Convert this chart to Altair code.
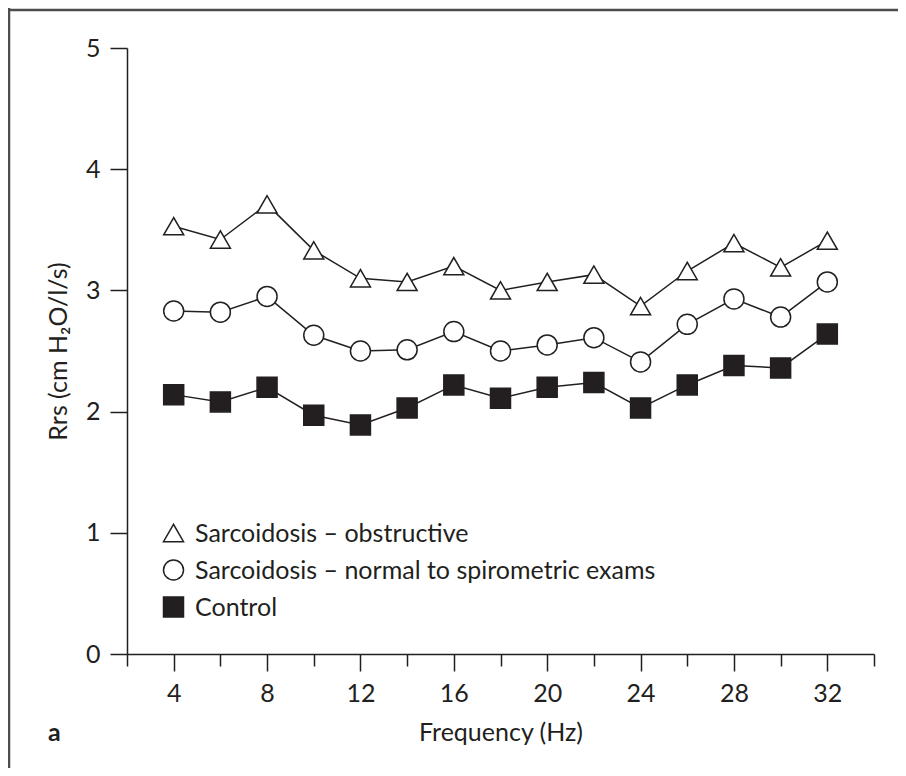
import altair as alt
import pandas as pd

freq = [4, 6, 8, 10, 12, 14, 16, 18, 20, 22, 24, 26, 28, 30, 32]
obstructive = [3.53, 3.42, 3.71, 3.33, 3.10, 3.07, 3.20, 3.00, 3.07, 3.13, 2.87, 3.16, 3.39, 3.19, 3.41]
normal = [2.83, 2.82, 2.95, 2.63, 2.50, 2.51, 2.66, 2.50, 2.55, 2.61, 2.41, 2.72, 2.93, 2.78, 3.07]
control = [2.14, 2.08, 2.20, 1.97, 1.89, 2.03, 2.22, 2.11, 2.20, 2.24, 2.03, 2.22, 2.38, 2.36, 2.64]
series_names = ["Sarcoidosis \u2013 obstructive",
                "Sarcoidosis \u2013 normal to spirometric exams",
                "Control"]
x_ticks = list(range(2, 35, 2))
y_ticks = [i / 2 for i in range(0, 11)]
panel_label = ["a"]

rows = []
for name, vals in zip(series_names, [obstructive, normal, control]):
    for f, v in zip(freq, vals):
        rows.append({"freq": f, "rrs": v, "series": name})
df = pd.DataFrame(rows)
legend_df = pd.DataFrame({"series": series_names})

INK = "#231f20"
FONT = "Lato"
FS = 25

shape_scale = alt.Scale(domain=series_names, range=["triangle-up", "circle", "square"])
fill_scale = alt.Scale(domain=series_names, range=["white", "white", INK])

x_enc = alt.X("freq:Q", scale=alt.Scale(domain=[2, 34], nice=False, zero=False),
              axis=alt.Axis(values=x_ticks,
                            labelExpr="datum.value % 4 === 0 ? datum.label : ''",
                            tickSize={"condition": {"test": "datum.value % 4 === 0", "value": 17}, "value": 12},
                            labelPadding=10, labelOverlap=False, labelFlush=False,
                            title="Frequency (Hz)", titlePadding=14))
y_enc = alt.Y("rrs:Q", scale=alt.Scale(domain=[0, 5], nice=False),
              axis=alt.Axis(values=y_ticks, format="d",
                            labelExpr="datum.value % 1 === 0 ? datum.label : ''",
                            tickSize={"condition": {"test": "datum.value % 1 === 0", "value": 17}, "value": 10},
                            labelPadding=10, labelOverlap=False, labelFlush=False,
                            title="Rrs (cm H\u2082O/l/s)", titlePadding=14))

base = alt.Chart(df)

lines = base.mark_line(color=INK, strokeWidth=1.5).encode(
    x=x_enc, y=y_enc, detail="series:N")

points = base.mark_point(size=400, strokeWidth=1.5, stroke=INK, opacity=1).encode(
    x="freq:Q", y="rrs:Q",
    shape=alt.Shape("series:N", scale=shape_scale, legend=None),
    fill=alt.Fill("series:N", scale=fill_scale, legend=None),
)

data_layer = alt.layer(lines, points)

# legend drawn as marks, rows placed by a point scale
leg_y = alt.Y("series:N", sort=series_names,
              scale=alt.Scale(type="point", domain=series_names, range=[485, 559], padding=0),
              axis=None)
leg_sym = alt.Chart(legend_df).mark_point(size=400, strokeWidth=1.5, stroke=INK, opacity=1).encode(
    x=alt.value(46.5), y=leg_y,
    shape=alt.Shape("series:N", scale=shape_scale, legend=None),
    fill=alt.Fill("series:N", scale=fill_scale, legend=None),
)
leg_txt = alt.Chart(legend_df).mark_text(
    align="left", baseline="middle", font=FONT, fontSize=FS, color=INK, dy=1
).encode(x=alt.value(68), y=leg_y, text="series:N")
legend_layer = alt.layer(leg_sym, leg_txt)

frame_df = pd.DataFrame({"k": [0]})
left_line = alt.Chart(frame_df).mark_rule(color="#4d4d4d", strokeWidth=2.5).encode(
    x=alt.value(-118), y=alt.value(-40), y2=alt.value(720))
top_line = alt.Chart(frame_df).mark_rule(color="#4d4d4d", strokeWidth=2.5).encode(
    x=alt.value(-119), x2=alt.value(771), y=alt.value(-38))

label = alt.Chart(pd.DataFrame({"t": panel_label})).mark_text(
    align="left", baseline="alphabetic", fontSize=FS, fontWeight="bold", font=FONT, color=INK
).encode(text="t:N", x=alt.value(-79), y=alt.value(693))

chart = alt.layer(data_layer, legend_layer, left_line, top_line, label).resolve_scale(
    y="independent"
).properties(
    width=747, height=606,
    padding={"left": 119, "top": 40, "right": 24, "bottom": 114},
    autosize=alt.AutoSizeParams(type="none"),
).configure_view(stroke=None).configure_axis(
    domainColor=INK, domainWidth=1.5, tickColor=INK, tickWidth=1.5,
    labelFont=FONT, labelFontSize=FS, labelColor=INK,
    titleFont=FONT, titleFontSize=FS, titleFontWeight="normal", titleColor=INK,
    grid=False,
)

chart.save("out.html", embed_options={"renderer": "svg", "actions": False})
